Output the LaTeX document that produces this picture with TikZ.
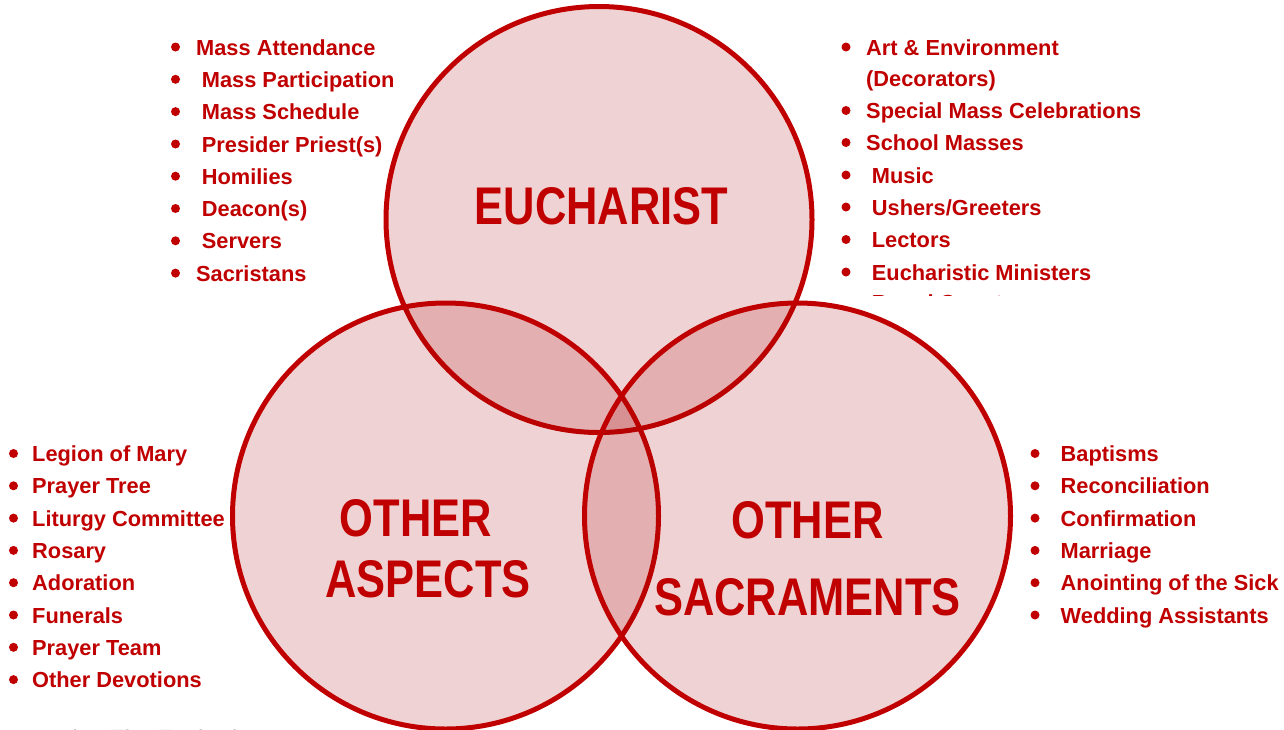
\documentclass[tikz,border=0pt]{standalone}
\usepackage{fontspec}
\setmainfont{Liberation Sans}
\newfontfamily\headfont[FakeStretch=0.82]{Liberation Sans}
\definecolor{vred}{RGB}{192,0,0}
\definecolor{vfill}{RGB}{165,0,5}
\definecolor{srcgray}{RGB}{200,200,200}
\begin{document}
\begin{tikzpicture}[x=1pt,y=-1pt,
  circ/.style={draw=vred, line width=5pt, fill=vfill, fill opacity=0.173},
  listtxt/.style={anchor=base west, inner sep=0pt, text=vred, font=\fontsize{21.8}{26}\selectfont\bfseries},
  head/.style={anchor=base, inner sep=0pt, text=vred, font=\headfont\fontsize{53}{60}\selectfont\bfseries},
  bul/.style={circle, fill=vred, inner sep=0pt, minimum size=9pt}]
\useasboundingbox (0,0) rectangle (1284,729);

% circles
\path[circ] (599,219.5) circle [radius=213pt];
\path[circ] (445.5,516) circle [radius=213pt];
\path[circ] (797.5,516) circle [radius=213pt];

% headings
\node[head] (heu) at (601.5,224) {EUCHARIST};
\node[head] (hoa1) at (416,536) {OTHER};
\node[head] (hoa2) at (428,597) {ASPECTS};
\node[head] (hos1) at (807.5,538) {OTHER};
\node[head] (hos2) at (807.5,615) {SACRAMENTS};

% top-left list
\foreach \xx/\yy/\t [count=\i] in {
  196/55/Mass Attendance,
  201.7/87.3/Mass Participation,
  201.7/119.6/Mass Schedule,
  201.7/152/Presider Priest(s),
  201.7/184.2/Homilies,
  201.7/216.5/Deacon(s),
  201.7/248.8/Servers,
  196/281.1/Sacristans}{
  \node[listtxt] (tl\i) at (\xx,\yy) {\t};
  \node[bul] (tlb\i) at (175.5,\yy-8) {};
}

% top-right list
\node[listtxt] (tr1) at (866,55) {Art \& Environment};
\node[bul] (trb1) at (846,47) {};
\node[listtxt] (tr2) at (866,86.5) {(Decorators)};
\foreach \xx/\yy/\t [count=\i from 3] in {
  866/118.5/{Special Mass Celebrations},
  866/150.5/{School Masses},
  871.7/183/{Music},
  871.7/215/{Ushers/Greeters},
  871.7/247.5/{Lectors},
  871.7/280/{Eucharistic Ministers}}{
  \node[listtxt] (tr\i) at (\xx,\yy) {\t};
  \node[bul] (trb\i) at (846,\yy-8) {};
}
\begin{scope}
  \clip (850,280) rectangle (1120,295.5);
  \node[listtxt] (tr9) at (871.7,310) {Bread Counters};
\end{scope}

% bottom-left list
\foreach \t [count=\i] in {Legion of Mary, Prayer Tree, Liturgy Committee, Rosary,
  Adoration, Funerals, Prayer Team, Other Devotions}{
  \node[listtxt] (bl\i) at (32,461.5+32.3*\i-32.3) {\t};
  \node[bul] (blb\i) at (13.5,453.5+32.3*\i-32.3) {};
}

% bottom-right list
\foreach \t [count=\i] in {Baptisms, Reconciliation, Confirmation, Marriage,
  Anointing of the Sick, Wedding Assistants}{
  \node[listtxt] (br\i) at (1060.5,461.5+32.3*\i-32.3) {\t};
  \node[bul] (brb\i) at (1035,453.5+32.3*\i-32.3) {};
}

% clipped gray source line at bottom
\begin{scope}
  \clip (0,700) rectangle (400,729);
  \node[anchor=base west, inner sep=0pt, text=srcgray, font=\fontsize{23.5}{28}\selectfont] (src) at (66,746) {tion The Eucharist};
\end{scope}
\end{tikzpicture}
\end{document}
